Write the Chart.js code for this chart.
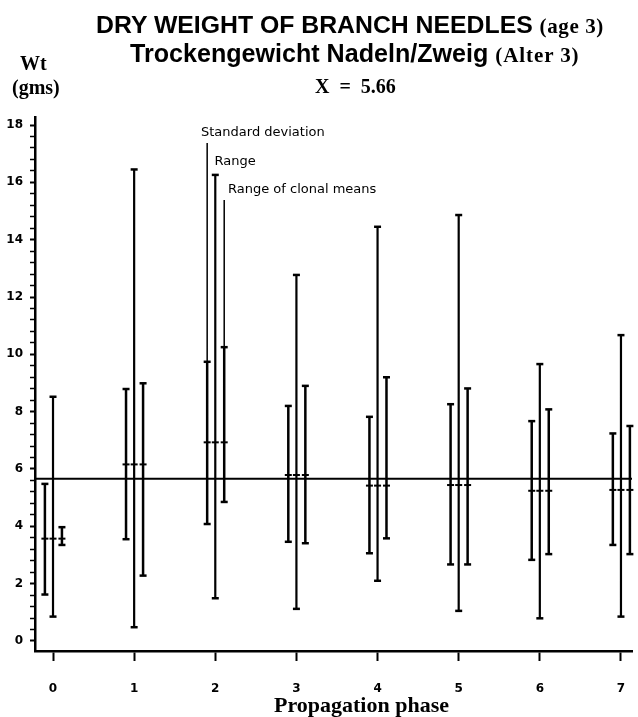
<!DOCTYPE html>
<html>
<head>
<meta charset="utf-8">
<script src="https://cdn.jsdelivr.net/npm/chart.js@4/dist/chart.umd.min.js"></script>
<style>
  html, body { margin: 0; padding: 0; background: #fff; }
  #wrap { position: relative; width: 638px; height: 717px; overflow: hidden; }
  #c { position: absolute; left: 0; top: 0; }
  .t { position: absolute; white-space: nowrap; color: #000; line-height: 30px; }
  .sans { font-family: "Liberation Sans", Arial, sans-serif; font-weight: bold; }
  .serif { font-family: "Liberation Serif", "Times New Roman", serif; font-weight: bold; }
</style>
</head>
<body>
<div id="wrap">
  <canvas id="c" width="638" height="717"></canvas>
  <div class="t sans" style="left:96px; top:10px; font-size:24.8px;">DRY WEIGHT OF BRANCH NEEDLES <span class="serif" style="font-size:21px; letter-spacing:0.6px;">(age 3)</span></div>
  <div class="t sans" style="left:130px; top:38px; font-size:25.1px;">Trockengewicht Nadeln/Zweig <span class="serif" style="font-size:21px; letter-spacing:0.9px;">(Alter 3)</span></div>
  <div class="t serif" style="left:315px; top:71px; font-size:20px; word-spacing:5px;">X = 5.66</div>
  <div class="t serif" style="left:20px; top:48px; font-size:20px;">Wt</div>
  <div class="t serif" style="left:12px; top:72px; font-size:20px;">(gms)</div>
  <div class="t serif" style="left:274px; top:690px; font-size:22px;">Propagation phase</div>
</div>
<script>
// Propagation phases on the x axis
const phases = [0, 1, 2, 3, 4, 5, 6, 7];

// Mean dry weight per phase (gms)
const phaseMeans = [3.57, 6.16, 6.93, 5.79, 5.42, 5.44, 5.24, 5.27];

// Mean ± one standard deviation
const sdLow  = [1.62, 3.55, 4.08, 3.46, 3.06, 2.67, 2.83, 3.35];
const sdHigh = [5.48, 8.79, 9.74, 8.20, 7.82, 8.26, 7.67, 7.24];

// Full range (min .. max)
const rangeLow  = [0.85, 0.48, 1.49, 1.12, 2.10, 1.05, 0.79, 0.85];
const rangeHigh = [8.52, 16.45, 16.26, 12.77, 14.45, 14.86, 9.66, 10.67];

// Range of clonal means
const clonalLow  = [3.35, 2.28, 4.85, 3.41, 3.58, 2.67, 3.03, 3.03];
const clonalHigh = [3.97, 8.99, 10.25, 8.90, 9.20, 8.81, 8.08, 7.50];

// Overall mean
const grandMean = 5.66;

// Labelled y ticks
const yTickLabels = [0, 2, 4, 6, 8, 10, 12, 14, 16, 18];
const yMinorStep = 0.4;

// Horizontal offset of each bar within a phase group
const offsets = { sd: -0.10, range: 0.0, clonal: 0.11 };

// Legend notes placed beside the bars of phase 2
const notes = [
  { text: 'Standard deviation',     x: 1.824, y: 17.72, leaderFrom: { s: 'sd',     top: 17.37 } },
  { text: 'Range',                  x: 1.99,  y: 16.71 },
  { text: 'Range of clonal means',  x: 2.157, y: 15.73, leaderFrom: { s: 'clonal', top: 15.38 } }
];
const notePhase = 2;

function barPoints(lo, hi, off) {
  const pts = [];
  phases.forEach((p, i) => {
    pts.push({ x: p + off, y: lo[i] }, { x: p + off, y: hi[i] }, { x: p + off, y: null });
  });
  return pts;
}

function meanPoints() {
  const pts = [];
  phases.forEach((p, i) => {
    [offsets.sd, offsets.range, offsets.clonal].forEach(o => pts.push({ x: p + o, y: phaseMeans[i] }));
  });
  return pts;
}

const highs = { sd: sdHigh, clonal: clonalHigh };
function leaderPoints() {
  const pts = [];
  notes.forEach(n => {
    if (!n.leaderFrom) return;
    const xv = phases[notePhase] + offsets[n.leaderFrom.s];
    pts.push({ x: xv, y: highs[n.leaderFrom.s][notePhase] }, { x: xv, y: n.leaderFrom.top }, { x: xv, y: null });
  });
  return pts;
}

function errorSet(label, pts, width) {
  return {
    type: 'scatter', label, data: pts, showLine: true, spanGaps: false,
    borderColor: '#000', backgroundColor: '#000', borderWidth: width,
    pointStyle: 'line', pointRadius: 3.5, pointBorderWidth: 2.5, pointHoverRadius: 3.5,
    clip: false
  };
}

const notePlugin = {
  id: 'notes',
  afterDatasetsDraw(chart) {
    const { ctx, scales: { x, y } } = chart;
    ctx.save();
    ctx.font = '13px "DejaVu Sans"';
    ctx.fillStyle = '#000';
    ctx.textBaseline = 'middle';
    ctx.textAlign = 'left';
    notes.forEach(n => ctx.fillText(n.text, x.getPixelForValue(n.x), y.getPixelForValue(n.y)));
    ctx.restore();
  }
};

new Chart(document.getElementById('c'), {
  type: 'scatter',
  data: {
    datasets: [
      {
        type: 'line', label: 'Mean', data: [{ x: -0.222, y: grandMean }, { x: 7.136, y: grandMean }],
        borderColor: '#000', borderWidth: 2, pointRadius: 0, clip: false
      },
      errorSet('Standard deviation', barPoints(sdLow, sdHigh, offsets.sd), 2.5),
      errorSet('Range', barPoints(rangeLow, rangeHigh, offsets.range), 2.2),
      errorSet('Range of clonal means', barPoints(clonalLow, clonalHigh, offsets.clonal), 2.5),
      {
        type: 'scatter', label: 'leaders', data: leaderPoints(), showLine: true, spanGaps: false,
        borderColor: '#000', borderWidth: 1.5, pointRadius: 0, clip: false
      },
      {
        type: 'scatter', label: 'phase means', data: meanPoints(),
        pointStyle: 'line', pointRadius: 3.5, pointBorderWidth: 2,
        borderColor: '#000', backgroundColor: '#000', clip: false
      }
    ]
  },
  options: {
    responsive: false,
    animation: false,
    devicePixelRatio: 1,
    events: [],
    layout: { padding: { top: 117, right: 5, left: 0, bottom: 0 } },
    plugins: { legend: { display: false }, tooltip: { enabled: false }, title: { display: false } },
    scales: {
      x: {
        type: 'linear', min: -0.222, max: 7.136,
        afterBuildTicks(s) { s.ticks = phases.map(v => ({ value: v })); },
        afterFit(s) { s.height = 66; s.paddingLeft = 0; s.paddingRight = 0; },
        border: { display: true, color: '#000', width: 2.5 },
        grid: { display: true, drawOnChartArea: false, drawTicks: true, tickLength: 10, tickWidth: 2, tickColor: '#000' },
        ticks: { color: '#000', padding: 21, font: { family: 'DejaVu Sans', weight: 'bold', size: 12 }, callback: v => String(v) }
      },
      y: {
        type: 'linear', min: -0.35, max: 18.28,
        afterBuildTicks(s) {
          const t = [];
          for (let k = 0; k * yMinorStep <= 18 + 1e-9; k++) t.push({ value: Math.round(k * yMinorStep * 10) / 10 });
          s.ticks = t;
        },
        afterFit(s) { s.width = 35; s.paddingTop = 0; s.paddingBottom = 0; },
        border: { display: true, color: '#000', width: 2.5 },
        grid: {
          display: true, drawOnChartArea: false, drawTicks: true, tickLength: 5,
          tickColor: '#000',
          tickWidth: c => (yTickLabels.includes(c.tick.value) ? 2 : 1.5)
        },
        ticks: {
          color: '#000', padding: 7, autoSkip: false,
          font: { family: 'DejaVu Sans', weight: 'bold', size: 12 },
          callback: v => (yTickLabels.includes(v) ? String(v) : '')
        }
      }
    }
  },
  plugins: [notePlugin]
});
</script>
</body>
</html>
